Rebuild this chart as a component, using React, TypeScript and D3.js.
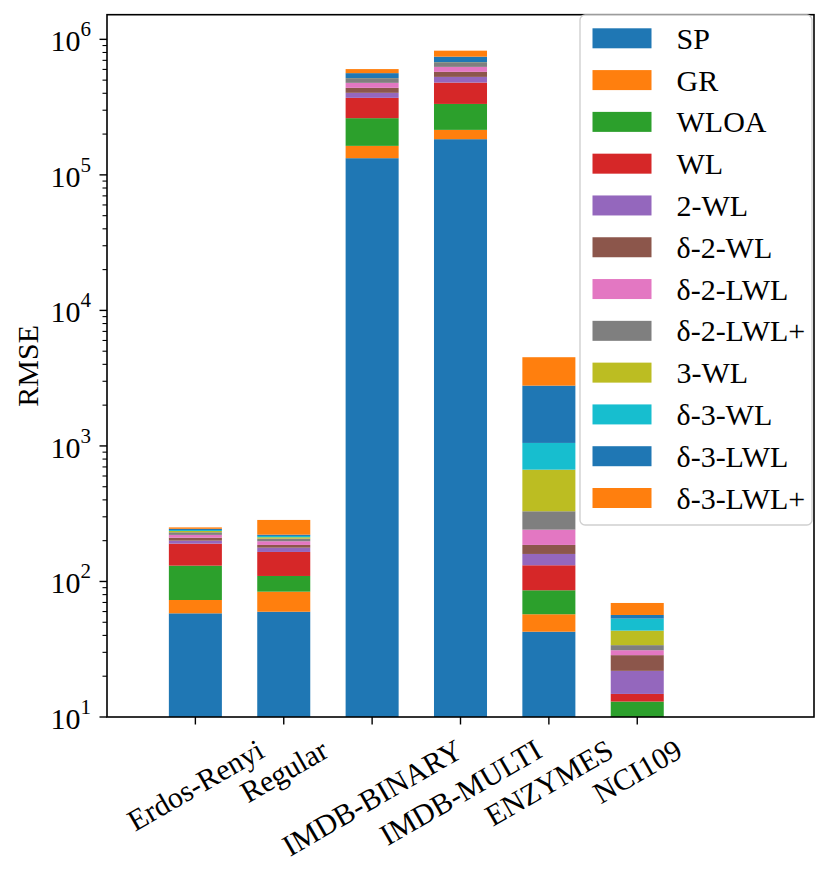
import { useEffect, useRef } from 'react'
import * as d3 from 'd3'

const datasets = ['Erdos-Renyi', 'Regular', 'IMDB-BINARY', 'IMDB-MULTI', 'ENZYMES', 'NCI109']
const methods = ['SP', 'GR', 'WLOA', 'WL', '2-WL', 'δ-2-WL', 'δ-2-LWL', 'δ-2-LWL+', '3-WL', 'δ-3-WL', 'δ-3-LWL', 'δ-3-LWL+']

// RMSE per method, one value per dataset
const sp = [58.2, 59.8, 132800, 183400, 42.6, 5]
const gr = [14.8, 24.3, 30900, 31400, 14.7, 3]
const wloa = [57.8, 25.7, 98400, 119000, 28.8, 5.0]
const wl = [59.3, 55.3, 108000, 146000, 45.6, 1.8]
const wl2 = [10, 12.5, 33000, 48600, 27.9, 7.1]
const d2wl = [10.5, 8.4, 35500, 47000, 26.4, 6.7]
const d2lwl = [10, 12.1, 39000, 51000, 55.2, 2.5]
const d2lwlp = [10, 8.9, 39700, 52000, 88.4, 2.8]
const wl3 = [5, 4.9, 500, 1000, 338.8, 9.5]
const d3wl = [4, 4.8, 500, 1000, 384, 9.8]
const d3lwl = [5, 4.8, 45000, 64600, 1734, 3.4]
const d3lwlp = [6, 62.9, 40000, 80000, 1728, 12.8]

const series = [sp, gr, wloa, wl, wl2, d2wl, d2lwl, d2lwlp, wl3, d3wl, d3lwl, d3lwlp]
const yTicks = [1, 2, 3, 4, 5, 6]

const colors = [
  '#1f77b4', '#ff7f0e', '#2ca02c', '#d62728', '#9467bd', '#8c564b',
  '#e377c2', '#7f7f7f', '#bcbd22', '#17becf', '#1f77b4', '#ff7f0e',
]

const FONT = '"Liberation Serif", "DejaVu Serif", serif'
const FS = 30

const App = () => {
  const svgRef = useRef(null)

  useEffect(() => {
    const width = 830
    const height = 871
    const left = 107
    const right = 814
    const top = 14.7
    const bottom = 717

    const svg = d3.select(svgRef.current)
    svg.selectAll('*').remove()
    svg.attr('width', width).attr('height', height)

    const x = d3.scaleLinear().domain([-1, 7]).range([left, right])
    const y = d3.scaleLog().domain([10, 1.52e6]).range([bottom, top])
    const barW = (x(1) - x(0)) * 0.6

    const plot = svg.append('g')
    plot.append('defs').append('clipPath').attr('id', 'clip')
      .append('rect').attr('x', left).attr('y', top).attr('width', right - left).attr('height', bottom - top)

    const bars = plot.append('g').attr('clip-path', 'url(#clip)')
    datasets.forEach((_, i) => {
      let base = 0
      series.forEach((s, k) => {
        const v0 = base
        const v1 = base + s[i]
        base = v1
        const yTop = y(v1)
        const yBot = v0 <= 0 ? bottom + 5 : y(v0)
        bars.append('rect')
          .attr('x', x(i) - barW / 2)
          .attr('width', barW)
          .attr('y', yTop)
          .attr('height', Math.max(0, yBot - yTop))
          .attr('fill', colors[k])
      })
    })

    // minor ticks
    const minor: number[] = []
    for (let e = 1; e <= 6; e++) for (let m = 2; m <= 9; m++) minor.push(m * 10 ** e)
    plot.append('g').selectAll('line').data(minor.filter((v) => v < 1.52e6)).join('line')
      .attr('x1', left - 4.5).attr('x2', left)
      .attr('y1', (d) => y(d)).attr('y2', (d) => y(d))
      .attr('stroke', '#000').attr('stroke-width', 1.1)

    // major y ticks and labels
    const yg = plot.append('g')
    yTicks.forEach((e) => {
      const yy = y(10 ** e)
      yg.append('line').attr('x1', left - 7.5).attr('x2', left).attr('y1', yy).attr('y2', yy)
        .attr('stroke', '#000').attr('stroke-width', 1.4)
      const t = yg.append('text').attr('x', 91).attr('y', yy + 12)
        .attr('text-anchor', 'end').attr('font-family', FONT).attr('font-size', FS)
      t.append('tspan').text('10')
      t.append('tspan').attr('dy', -15).attr('font-size', 21).text(String(e))
    })

    // x ticks and rotated labels
    const xg = plot.append('g')
    datasets.forEach((name, i) => {
      const xx = x(i)
      xg.append('line').attr('x1', xx).attr('x2', xx).attr('y1', bottom).attr('y2', bottom + 7.5)
        .attr('stroke', '#000').attr('stroke-width', 1.4)
      const t = xg.append('text').text(name)
        .attr('font-family', FONT).attr('font-size', FS)
        .attr('text-anchor', 'middle').attr('dominant-baseline', 'central')
      const w = (t.node() as SVGTextElement).getComputedTextLength()
      const h = FS * 1.0
      const bh = w * 0.5 + h * Math.cos(Math.PI / 6)
      t.attr('transform', `translate(${xx},${734 + bh / 2}) rotate(-30)`)
    })

    // spines
    plot.append('rect').attr('x', left).attr('y', top).attr('width', right - left).attr('height', bottom - top)
      .attr('fill', 'none').attr('stroke', '#000').attr('stroke-width', 1.6)

    // y label
    svg.append('text').text('RMSE')
      .attr('transform', `translate(27,${(top + bottom) / 2}) rotate(-90)`)
      .attr('text-anchor', 'middle').attr('dominant-baseline', 'central')
      .attr('font-family', FONT).attr('font-size', FS)

    // legend
    const lg = svg.append('g')
    lg.append('rect').attr('x', 580).attr('y', 15).attr('width', 232).attr('height', 510)
      .attr('rx', 5).attr('fill', '#fff').attr('fill-opacity', 0.8)
      .attr('stroke', '#d0d0d0').attr('stroke-width', 1.4)
    const rowY = d3.scaleLinear().domain([0, methods.length - 1]).range([38.3, 498])
    methods.forEach((m, k) => {
      const cy = rowY(k)
      lg.append('rect').attr('x', 592.5).attr('y', cy - 10).attr('width', 59).attr('height', 20)
        .attr('fill', colors[k])
      lg.append('text').text(m).attr('x', 676.5).attr('y', cy)
        .attr('dominant-baseline', 'central')
        .attr('font-family', FONT).attr('font-size', FS)
    })
  }, [])

  return <svg ref={svgRef} style={{ position: 'absolute', left: 0, top: 0 }}></svg>
}

export default App
